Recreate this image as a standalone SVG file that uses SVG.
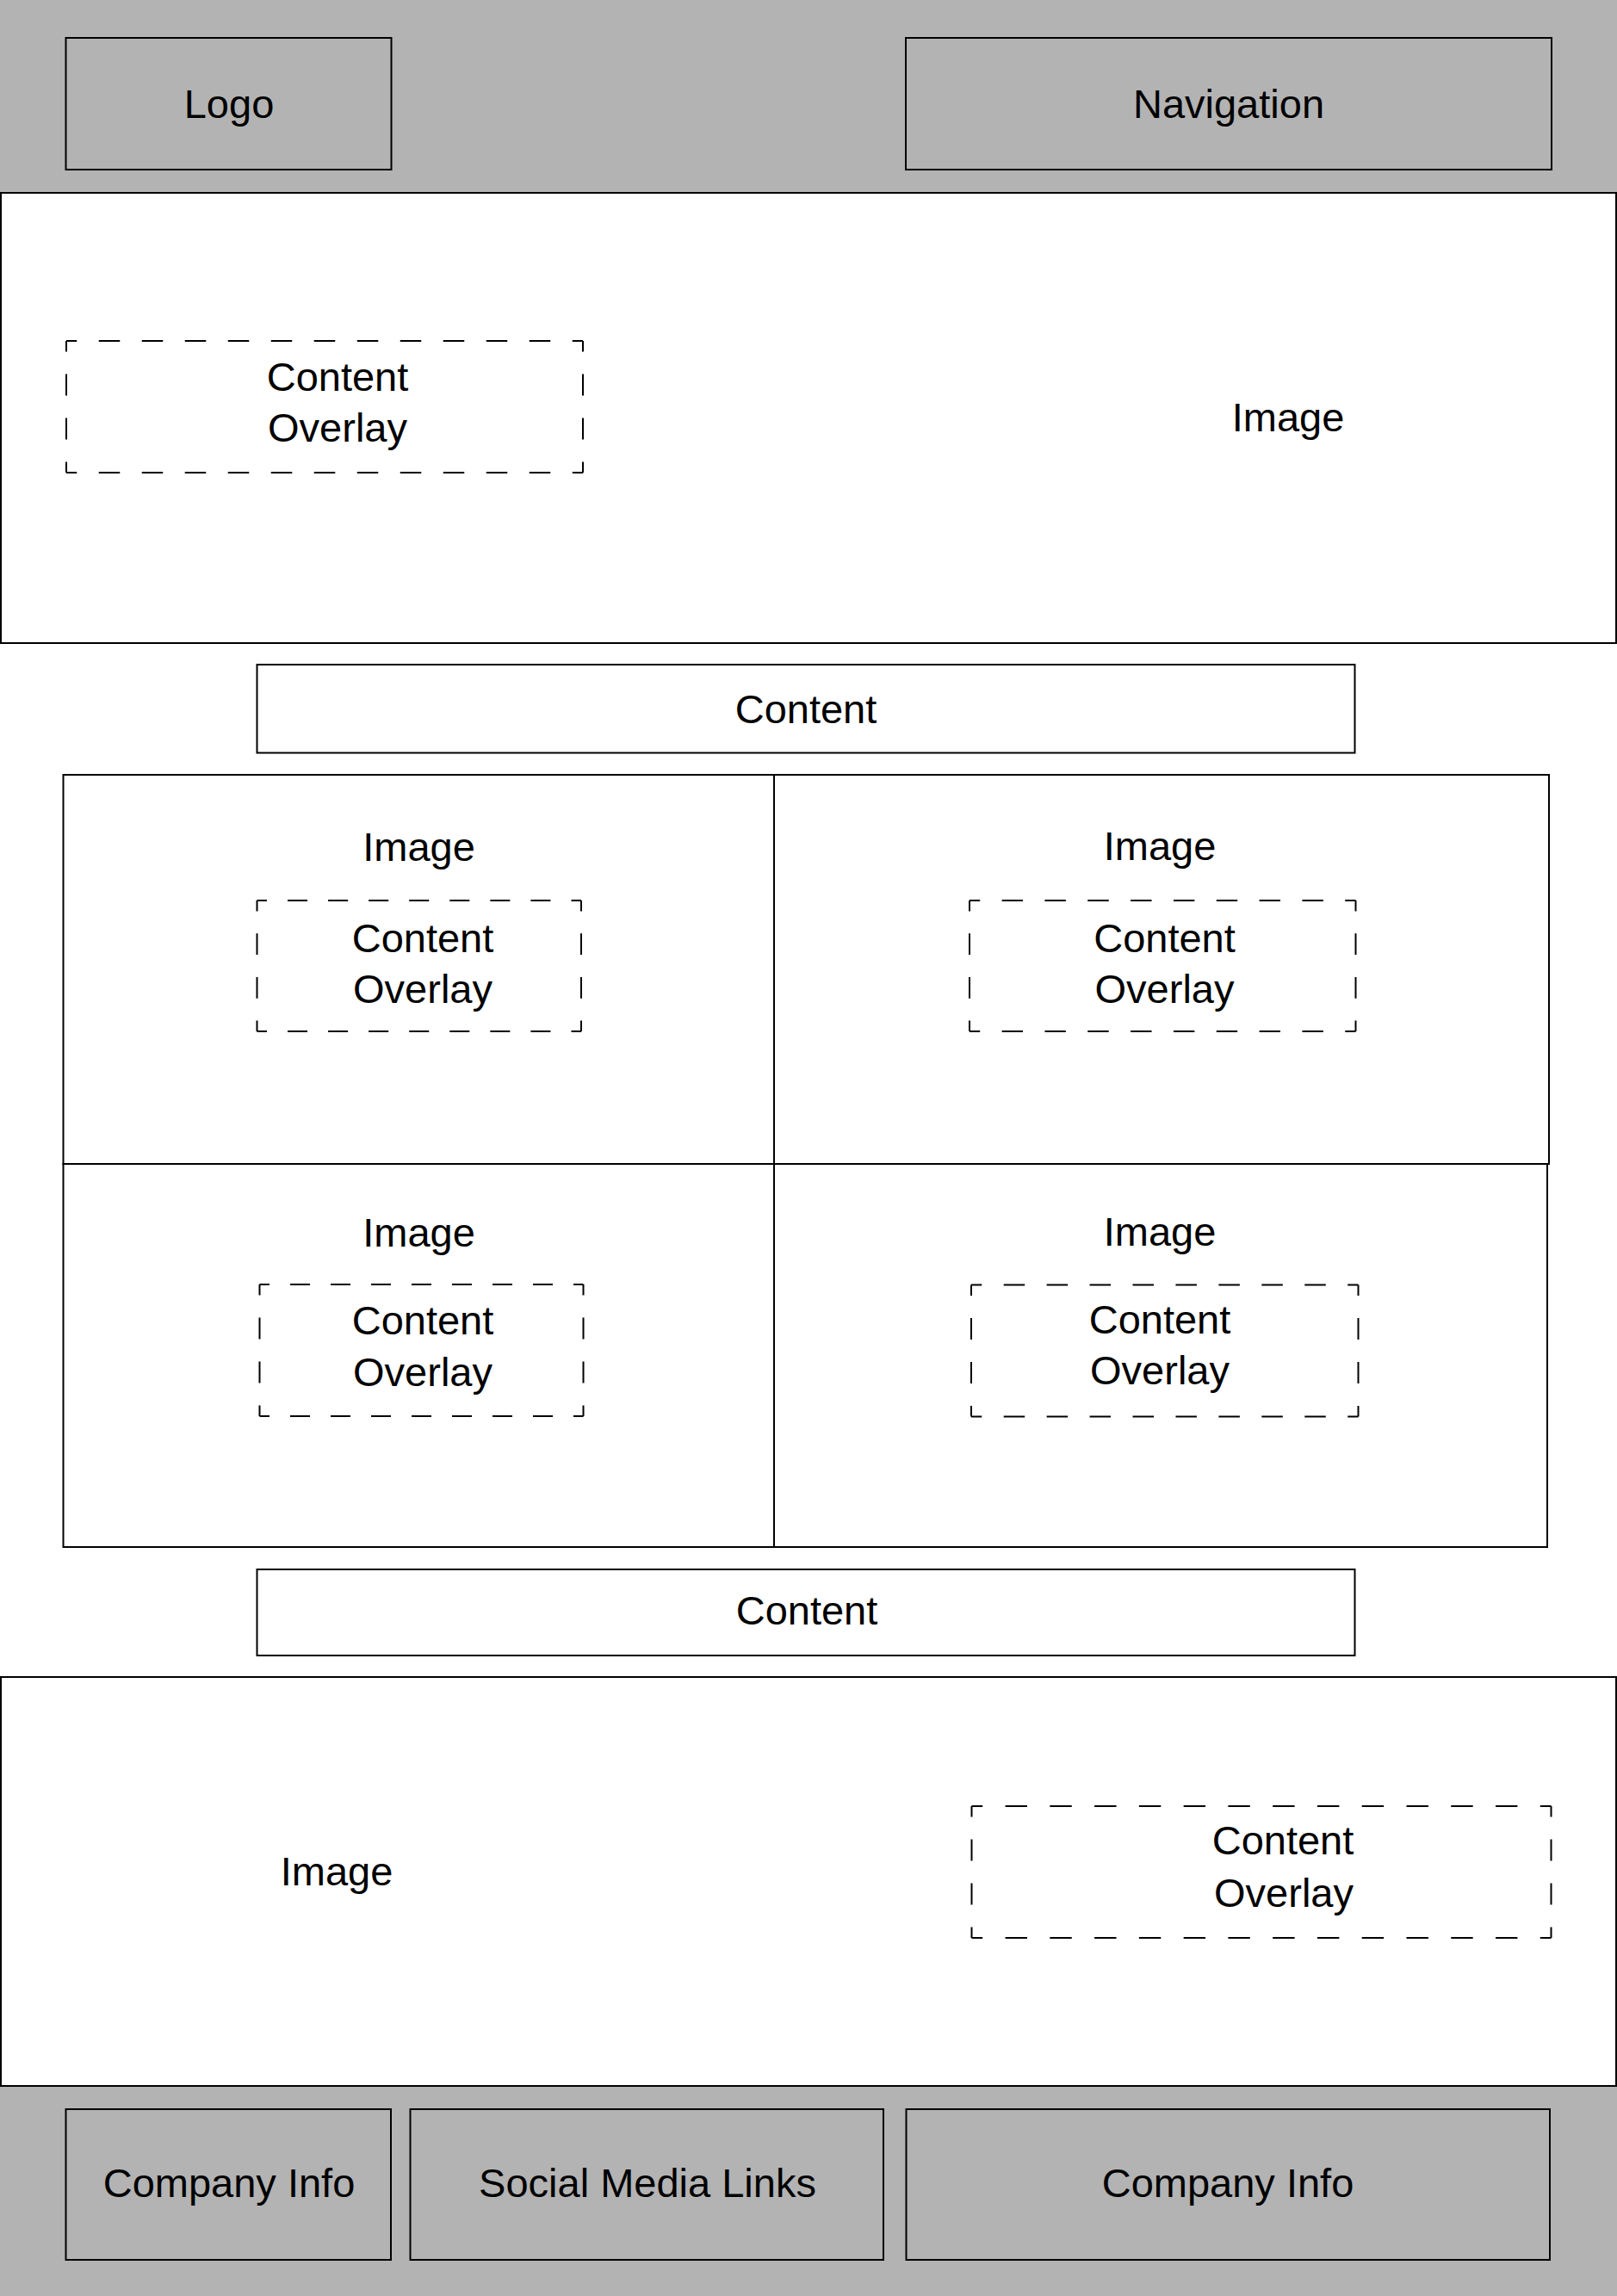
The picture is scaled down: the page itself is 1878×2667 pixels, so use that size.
<svg xmlns="http://www.w3.org/2000/svg" width="1878" height="2667" viewBox="0 0 1878 2667">
<style>
.bg{fill:#b3b3b3;stroke:none}
.box{fill:none;stroke:#000;stroke-width:2}
.wbox{fill:#fff;stroke:#000;stroke-width:2}
.dash{fill:none;stroke:#000;stroke-width:2;stroke-linecap:butt}
.t{font-family:"Liberation Sans",Arial,sans-serif;font-size:47px;fill:#000;text-anchor:middle}
</style>
<rect width="1878" height="2667" fill="#fff"/>
<g id="header">
<rect class="bg" x="0" y="0" width="1878" height="224"/>
</g>
<g id="logo">
<rect class="box" x="76.5" y="44" width="378" height="153"/>
<text class="t" x="266" y="137">Logo</text>
</g>
<g id="navigation">
<rect class="box" x="1052" y="44" width="750" height="153"/>
<text class="t" x="1427" y="137">Navigation</text>
</g>
<g id="hero">
<rect class="wbox" x="1" y="224" width="1876" height="523"/>
<text class="t" x="1496" y="501">Image</text>
</g>
<g id="hero-overlay">
<path class="dash" d="M77 396H677M77 549H677" stroke-dasharray="24.5 25.5" stroke-dashoffset="12.25"/>
<path class="dash" d="M77 396V549M677 396V549" stroke-dasharray="25 26" stroke-dashoffset="12.5"/>
<text class="t" x="392" y="454">Content</text>
<text class="t" x="392" y="513">Overlay</text>
</g>
<g id="content-1">
<rect class="box" x="298.5" y="772" width="1275" height="102.5"/>
<text class="t" x="936" y="840">Content</text>
</g>
<g id="cell-1">
<rect class="box" x="73.5" y="900" width="825.5" height="452"/>
<text class="t" x="486.5" y="1000">Image</text>
<path class="dash" d="M298.5 1046H675M298.5 1198H675" stroke-dasharray="23 24.06" stroke-dashoffset="11.5"/>
<path class="dash" d="M298.5 1046V1198M675 1046V1198" stroke-dasharray="24.8 25.87" stroke-dashoffset="12.4"/>
<text class="t" x="491" y="1106">Content</text>
<text class="t" x="491" y="1165">Overlay</text>
</g>
<g id="cell-2">
<rect class="box" x="899" y="900" width="900" height="452"/>
<text class="t" x="1347" y="999">Image</text>
<path class="dash" d="M1126 1046H1574.5M1126 1198H1574.5" stroke-dasharray="24.4 25.43" stroke-dashoffset="12.2"/>
<path class="dash" d="M1126 1046V1198M1574.5 1046V1198" stroke-dasharray="24.8 25.87" stroke-dashoffset="12.4"/>
<text class="t" x="1352.5" y="1106">Content</text>
<text class="t" x="1352.5" y="1165">Overlay</text>
</g>
<g id="cell-3">
<rect class="box" x="73.5" y="1352" width="825.5" height="445"/>
<text class="t" x="486.5" y="1448">Image</text>
<path class="dash" d="M301.5 1492H677.5M301.5 1645H677.5" stroke-dasharray="23 24" stroke-dashoffset="11.5"/>
<path class="dash" d="M301.5 1492V1645M677.5 1492V1645" stroke-dasharray="25 26" stroke-dashoffset="12.5"/>
<text class="t" x="491" y="1550">Content</text>
<text class="t" x="491" y="1609.5">Overlay</text>
</g>
<g id="cell-4">
<rect class="box" x="899" y="1352" width="898" height="445"/>
<text class="t" x="1347" y="1447">Image</text>
<path class="dash" d="M1128 1492.5H1577.5M1128 1645.5H1577.5" stroke-dasharray="24.5 25.44" stroke-dashoffset="12.25"/>
<path class="dash" d="M1128 1492.5V1645.5M1577.5 1492.5V1645.5" stroke-dasharray="25 26" stroke-dashoffset="12.5"/>
<text class="t" x="1347" y="1549">Content</text>
<text class="t" x="1347" y="1608">Overlay</text>
</g>
<g id="content-2">
<rect class="box" x="298.5" y="1823" width="1275" height="100"/>
<text class="t" x="937" y="1887">Content</text>
</g>
<g id="bottom-hero">
<rect class="wbox" x="1" y="1948" width="1876" height="475"/>
<text class="t" x="391" y="2190">Image</text>
</g>
<g id="bottom-overlay">
<path class="dash" d="M1128.5 2098H1801.5M1128.5 2251H1801.5" stroke-dasharray="25.4 26.37" stroke-dashoffset="12.7"/>
<path class="dash" d="M1128.5 2098V2251M1801.5 2098V2251" stroke-dasharray="25 26" stroke-dashoffset="12.5"/>
<text class="t" x="1490" y="2154">Content</text>
<text class="t" x="1491" y="2215">Overlay</text>
</g>
<g id="footer">
<rect class="bg" x="0" y="2424" width="1878" height="243"/>
<line x1="0" y1="2423" x2="1878" y2="2423" stroke="#000" stroke-width="2"/>
</g>
<g id="company-info-1">
<rect class="box" x="76.5" y="2450" width="377.5" height="175"/>
<text class="t" x="266" y="2552">Company Info</text>
</g>
<g id="social-media-links">
<rect class="box" x="476.5" y="2450" width="549.5" height="175"/>
<text class="t" x="752" y="2552">Social Media Links</text>
</g>
<g id="company-info-2">
<rect class="box" x="1052.5" y="2450" width="747.5" height="175"/>
<text class="t" x="1426" y="2552">Company Info</text>
</g>
<g id="connectors"/>
</svg>
